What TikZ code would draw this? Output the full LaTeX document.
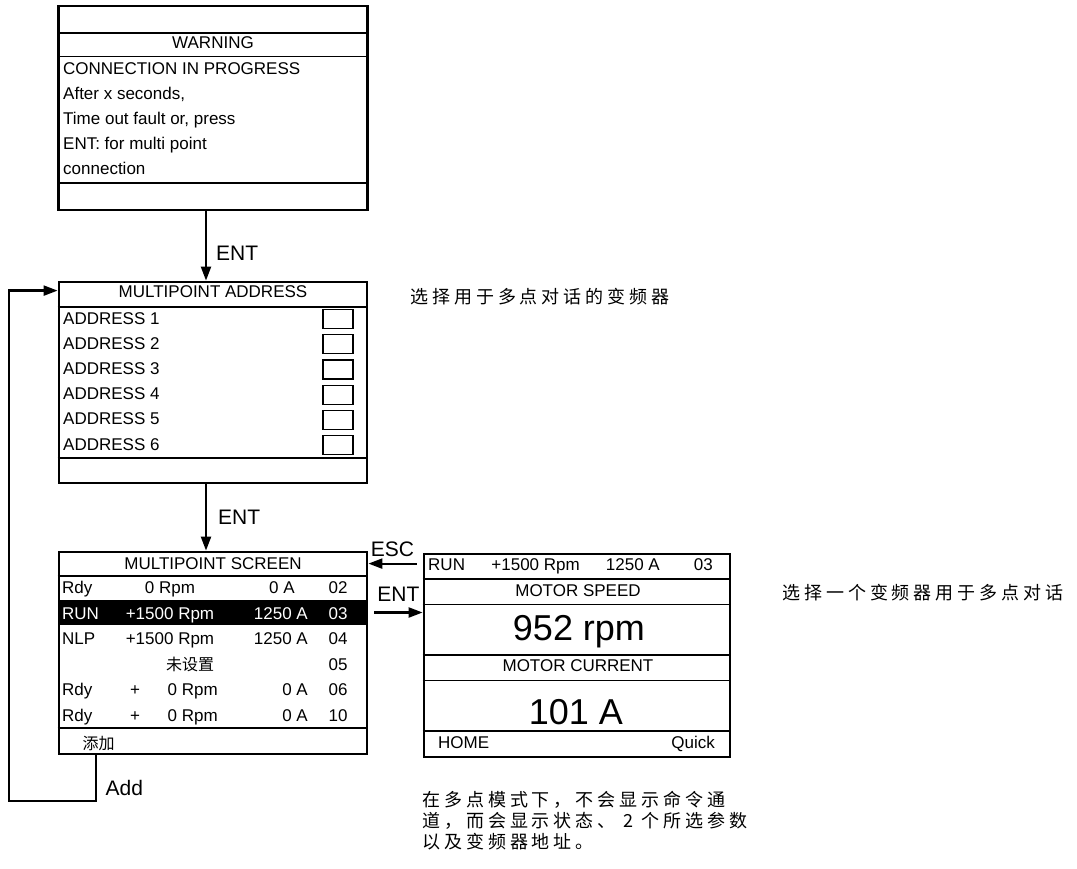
\documentclass[tikz,border=0pt]{standalone}
\usepackage{fontspec}
\setmainfont{Liberation Sans}
\newfontfamily\cjkfont{Noto Sans CJK SC}
\newfontfamily\cjknote[LetterSpace=22]{Noto Sans CJK SC}
\usetikzlibrary{arrows.meta,positioning}

\begin{document}
\begin{tikzpicture}[
  x=1pt, y=-1pt,
  every node/.style={font=\fontsize{17}{20}\selectfont, inner sep=0pt},
  panel/.style={draw, line width=2.8pt},
  hrule/.style={line width=2.8pt},
  thinrule/.style={line width=1pt},
  slot/.style={draw, line width=1.2pt, minimum width=30pt, minimum height=19pt},
  txt/.style={anchor=base west},
  ctr/.style={anchor=base},
  rgt/.style={anchor=base east},
  onbar/.style={text=white},
  bigval/.style={anchor=base, font=\fontsize{36}{40}\selectfont},
  cjkcell/.style={anchor=base, font=\fontsize{16}{18}\selectfont\cjkfont},
  keylabel/.style={font=\fontsize{21}{24}\selectfont},
  note/.style={anchor=base west, font=\fontsize{18}{21}\selectfont\cjknote},
  arrow/.style={-{Triangle[length=14pt,width=10pt]}, line width=2.2pt}
]
\useasboundingbox (0,0) rectangle (1077,869);

% warning screen
\node[panel, minimum width=309pt, minimum height=204pt] (warn) at (213,108) {};
\draw[hrule] (warn.west |- 0,33) -- (warn.east |- 0,33);
\draw[thinrule] (warn.west |- 0,57) -- (warn.east |- 0,57);
\draw[hrule] (warn.west |- 0,183) -- (warn.east |- 0,183);
\node[ctr] (warnhead) at (213,48.5) {WARNING};
\node[txt] (warn1) at (63,75) {CONNECTION IN PROGRESS};
\node[txt] (warn2) at (63,100) {After x seconds,};
\node[txt] (warn3) at (63,125) {Time out fault or, press};
\node[txt] (warn4) at (63,150) {ENT: for multi point};
\node[txt] (warn5) at (63,175) {connection};

% address screen
\node[panel, minimum width=308pt, minimum height=201pt] (addr) at (213,382.5) {};
\draw[hrule] (addr.west |- 0,307) -- (addr.east |- 0,307);
\draw[hrule] (addr.west |- 0,458) -- (addr.east |- 0,458);
\node[ctr] (addrhead) at (213,297.5) {MULTIPOINT ADDRESS};
\node[txt] (addr1) at (63,324) {ADDRESS 1};
\node[txt] (addr2) at (63,349.2) {ADDRESS 2};
\node[txt] (addr3) at (63,374.4) {ADDRESS 3};
\node[txt] (addr4) at (63,399.6) {ADDRESS 4};
\node[txt] (addr5) at (63,424.8) {ADDRESS 5};
\node[txt] (addr6) at (63,450) {ADDRESS 6};
\node[slot] (slot1) at (338,318.8) {};
\node[slot] (slot2) at (338,344.1) {};
\node[slot] (slot3) at (338,369.4) {};
\node[slot] (slot4) at (338,394.7) {};
\node[slot] (slot5) at (338,420) {};
\node[slot] (slot6) at (338,445.3) {};

% multipoint screen
\node[panel, minimum width=308pt, minimum height=202pt] (list) at (213,653) {};
\node[fill=black, minimum width=308pt, minimum height=25pt] (runbar) at (213,612.5) {};
\draw[hrule] (list.west |- 0,576) -- (list.east |- 0,576);
\draw[hrule] (list.west |- 0,728) -- (list.east |- 0,728);
\node[ctr] (listhead) at (213,569.5) {MULTIPOINT SCREEN};
\node[txt] (st1) at (62,593.5) {Rdy};
\node[ctr] (sp1) at (170,593.5) {0 Rpm};
\node[ctr] (cu1) at (282,593.5) {0 A};
\node[ctr] (ad1) at (338,593.5) {02};
\node[txt, onbar] (st2) at (62,619) {RUN};
\node[ctr, onbar] (sp2) at (170,619) {+1500 Rpm};
\node[rgt, onbar] (cu2) at (308,619) {1250 A};
\node[ctr, onbar] (ad2) at (338,619) {03};
\node[txt] (st3) at (62,644.5) {NLP};
\node[ctr] (sp3) at (170,644.5) {+1500 Rpm};
\node[rgt] (cu3) at (308,644.5) {1250 A};
\node[ctr] (ad3) at (338,644.5) {04};
\node[cjkcell] (unset) at (190,670) {未设置};
\node[ctr] (ad4) at (338,670) {05};
\node[txt] (st5) at (62,695.5) {Rdy};
\node[ctr] (pl5) at (135,695.5) {+};
\node[rgt] (sp5) at (218,695.5) {0 Rpm};
\node[rgt] (cu5) at (308,695.5) {0 A};
\node[ctr] (ad5) at (338,695.5) {06};
\node[txt] (st6) at (62,721) {Rdy};
\node[ctr] (pl6) at (135,721) {+};
\node[rgt] (sp6) at (218,721) {0 Rpm};
\node[rgt] (cu6) at (308,721) {0 A};
\node[ctr] (ad6) at (338,721) {10};
\node[cjkcell] (addkey) at (98.5,749) {添加};

% motor screen
\node[panel, minimum width=306pt, minimum height=203pt] (motor) at (577,655.5) {};
\draw[hrule] (motor.west |- 0,579) -- (motor.east |- 0,579);
\draw[thinrule] (motor.west |- 0,604) -- (motor.east |- 0,604);
\draw[hrule] (motor.west |- 0,655) -- (motor.east |- 0,655);
\draw[thinrule] (motor.west |- 0,680) -- (motor.east |- 0,680);
\draw[hrule] (motor.west |- 0,731) -- (motor.east |- 0,731);
\node[txt] (mst) at (428,570) {RUN};
\node[rgt] (msp) at (580,570) {+1500 Rpm};
\node[rgt] (mcu) at (660,570) {1250 A};
\node[rgt] (mad) at (713,570) {03};
\node[ctr] (speedhead) at (578,596) {MOTOR SPEED};
\node[bigval] (speed) at (579,640) {952 rpm};
\node[ctr] (currhead) at (578,671.7) {MOTOR CURRENT};
\node[bigval] (curr) at (576,724) {101 A};
\node[txt] (home) at (438,748) {HOME};
\node[rgt] (quick) at (715,748) {Quick};

% notes
\node[note] (pickdrive) at (410,304) {选择用于多点对话的变频器};
\node[note] (pickone) at (782,599) {选择一个变频器用于多点对话};
\node[note] (mode1) at (422,806) {在多点模式下，不会显示命令通};
\node[note] (mode2) at (422,827) {道，而会显示状态、 2 个所选参数};
\node[note] (mode3) at (422,848) {以及变频器地址。};

% arrows
\draw[arrow] ([xshift=-7pt]warn.south) -- node[keylabel, right=9pt, pos=0.6] (ent1) {ENT} ([xshift=-7pt]addr.north);
\draw[arrow] ([xshift=-7pt]addr.south) -- node[keylabel, right=11pt] (ent2) {ENT} ([xshift=-7pt]list.north);
\coordinate (escin) at ([yshift=-11pt]motor.north west);
\draw[arrow] ([xshift=-6pt]escin) -- node[keylabel, above=6pt] (esc) {ESC} (escin -| list.east);
\draw[arrow] ([xshift=7pt]runbar.east) -- node[keylabel, above=9.5pt] (ent3) {ENT} (runbar.east -| motor.west);
\coordinate (addtap) at ([xshift=38pt]list.south west);
\coordinate (loopcorner) at (9,801);
\draw[arrow] (addtap) -- node[keylabel, right=9pt, pos=0.71] (add) {Add} (addtap |- loopcorner)
  -- (loopcorner) |- ([yshift=-10pt]addr.north west);
\end{tikzpicture}
\end{document}
